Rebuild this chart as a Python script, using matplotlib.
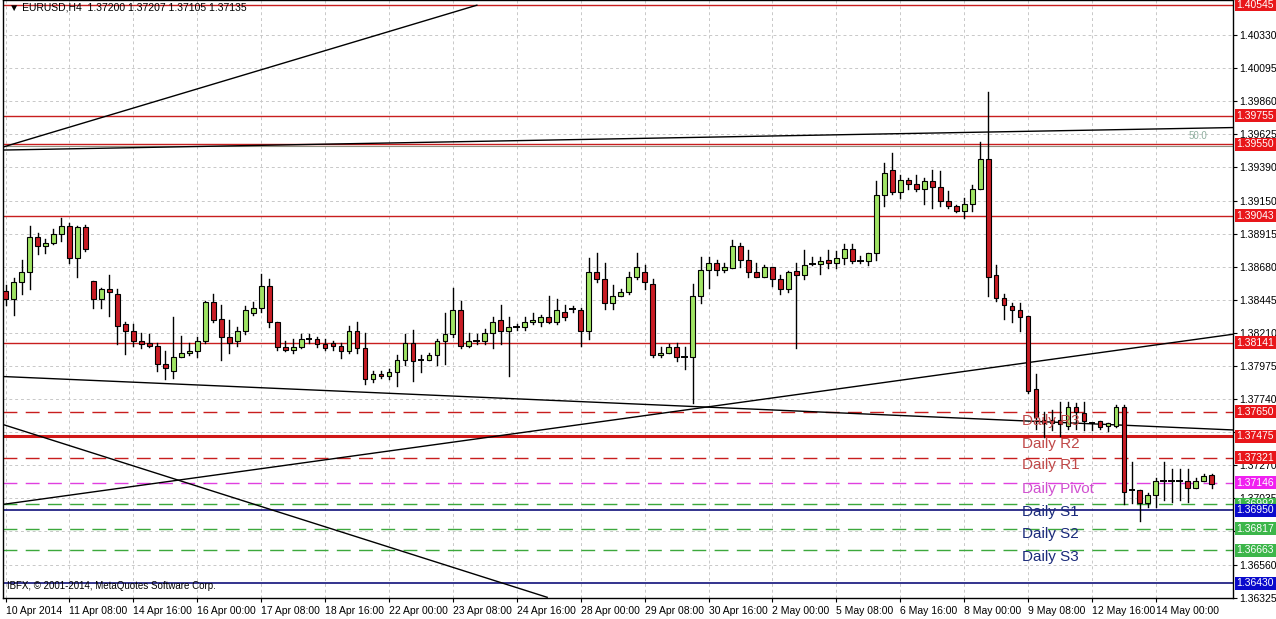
import numpy as np
import matplotlib
matplotlib.use('Agg')
import matplotlib.pyplot as plt
from matplotlib.patches import Rectangle

# EURUSD H4 candles: open, high, low, close
opens = [1.3851,1.3845,1.3857,1.3864,1.3889,1.3883,1.3885,1.3891,1.3897,1.3874,
         1.3896,1.3858,1.3845,1.3852,1.3849,1.3827,1.3822,1.3815,1.3814,1.3812,
         1.3799,1.3794,1.3804,1.3807,1.3808,1.3815,1.3843,1.3831,1.3818,1.3815,
         1.3822,1.3835,1.3839,1.3854,1.3829,1.3811,1.3809,1.3811,1.3817,1.3817,
         1.3813,1.3814,1.3812,1.3808,1.3822,1.3810,1.3788,1.3792,1.3790,1.3793,
         1.3802,1.3814,1.3802,1.3802,1.3805,1.3815,1.3820,1.3837,1.3812,1.3815,
         1.3815,1.3821,1.3830,1.3822,1.3825,1.3825,1.3829,1.3829,1.3832,1.3829,
         1.3836,1.3838,1.3837,1.3822,1.3864,1.3859,1.3842,1.3847,1.3850,1.3861,
         1.3864,1.3856,1.3805,1.3807,1.3811,1.3804,1.3804,1.3847,1.3866,1.3871,
         1.3866,1.3867,1.3883,1.3873,1.3864,1.3861,1.3868,1.3859,1.3852,1.3865,
         1.3862,1.3870,1.3870,1.3873,1.3871,1.3874,1.3881,1.3872,1.3872,1.3878,
         1.3919,1.3937,1.3921,1.3930,1.3927,1.3923,1.3929,1.3925,1.3915,1.3911,
         1.3908,1.3913,1.3923,1.3945,1.3862,1.3846,1.3840,1.3837,1.3833,1.3781,
         1.3759,1.3759,1.3759,1.3755,1.3768,1.3764,1.3757,1.3758,1.3755,1.3755,
         1.3768,1.3709,1.3709,1.3700,1.3706,1.3716,1.3716,1.3716,1.3716,1.3711,
         1.3716,1.37200]
highs = [1.3855,1.3860,1.3873,1.3897,1.3892,1.3888,1.3895,1.3903,1.3899,1.3897,
         1.3898,1.3858,1.3853,1.3862,1.3852,1.3829,1.3827,1.3821,1.3820,1.3814,
         1.3808,1.3832,1.3819,1.3814,1.3818,1.3844,1.3849,1.3841,1.3830,1.3825,
         1.3840,1.3843,1.3863,1.3859,1.3829,1.3815,1.3817,1.3820,1.3820,1.3818,
         1.3817,1.3815,1.3814,1.3826,1.3829,1.3821,1.3794,1.3794,1.3795,1.3805,
         1.3820,1.3823,1.3805,1.3807,1.3817,1.3835,1.3853,1.3844,1.3821,1.3820,
         1.3824,1.3832,1.3841,1.3832,1.3827,1.3832,1.3835,1.3834,1.3847,1.3845,
         1.3841,1.3840,1.3839,1.3874,1.3878,1.3871,1.3855,1.3852,1.3864,1.3878,
         1.3869,1.3859,1.3811,1.3813,1.3814,1.3811,1.3856,1.3875,1.3875,1.3873,
         1.3871,1.3887,1.3885,1.3880,1.3871,1.3869,1.3868,1.3862,1.3865,1.3871,
         1.3880,1.3875,1.3875,1.3880,1.3879,1.3884,1.3884,1.3876,1.3878,1.3929,
         1.3942,1.3949,1.3933,1.3931,1.3933,1.3931,1.3937,1.3936,1.3922,1.3912,
         1.3917,1.3926,1.3957,1.3992,1.3869,1.3849,1.3842,1.3842,1.3833,1.3792,
         1.3765,1.3766,1.3772,1.3772,1.3771,1.3772,1.3757,1.3758,1.3757,1.3770,
         1.3770,1.3729,1.3709,1.3707,1.3718,1.3729,1.3724,1.3724,1.3724,1.3718,
         1.3721,1.37207]
lows = [1.3841,1.3834,1.3849,1.3852,1.3877,1.3878,1.3884,1.3886,1.3871,1.3861,
        1.3879,1.3839,1.3839,1.3833,1.3813,1.3806,1.3812,1.3810,1.3811,1.3794,
        1.3788,1.3789,1.3804,1.3805,1.3804,1.3814,1.3829,1.3802,1.3807,1.3812,
        1.3820,1.3834,1.3836,1.3825,1.3809,1.3808,1.3807,1.3810,1.3814,1.3811,
        1.3809,1.3809,1.3803,1.3807,1.3807,1.3785,1.3786,1.3789,1.3788,1.3783,
        1.3798,1.3787,1.3793,1.3802,1.3798,1.3799,1.3818,1.3810,1.3811,1.3813,
        1.3813,1.3810,1.3813,1.3790,1.3823,1.3823,1.3827,1.3826,1.3828,1.3827,
        1.3830,1.3836,1.3812,1.3817,1.3857,1.3838,1.3838,1.3847,1.3849,1.3859,
        1.3852,1.3804,1.3804,1.3807,1.3801,1.3795,1.3771,1.3842,1.3853,1.3862,
        1.3864,1.3867,1.3868,1.3861,1.3861,1.3861,1.3854,1.3849,1.3850,1.3810,
        1.3859,1.3869,1.3863,1.3867,1.3867,1.3870,1.3871,1.3871,1.3869,1.3873,
        1.3911,1.3920,1.3917,1.3923,1.3922,1.3913,1.3910,1.3911,1.3910,1.3907,
        1.3903,1.3908,1.3923,1.3847,1.3844,1.3831,1.3829,1.3822,1.3778,1.3753,
        1.3747,1.3752,1.3748,1.3753,1.3753,1.3752,1.3752,1.3753,1.3751,1.3754,
        1.3699,1.3700,1.3687,1.3697,1.3697,1.3702,1.3701,1.3702,1.3701,1.3711,
        1.3716,1.37105]
closes = [1.3845,1.3857,1.3864,1.3889,1.3883,1.3885,1.3891,1.3897,1.3874,1.3896,
          1.3881,1.3845,1.3852,1.3850,1.3826,1.3822,1.3815,1.3813,1.3812,1.3799,
          1.3796,1.3804,1.3807,1.3808,1.3815,1.3843,1.3830,1.3818,1.3814,1.3822,
          1.3837,1.3839,1.3854,1.3829,1.3811,1.3809,1.3811,1.3817,1.3817,1.3813,
          1.3810,1.3812,1.3808,1.3822,1.3810,1.3788,1.3792,1.3790,1.3793,1.3802,
          1.3814,1.3801,1.3802,1.3805,1.3815,1.3820,1.3837,1.3812,1.3815,1.3815,
          1.3821,1.3829,1.3822,1.3825,1.3825,1.3829,1.3830,1.3832,1.3829,1.3837,
          1.3832,1.3838,1.3822,1.3864,1.3859,1.3842,1.3847,1.3850,1.3861,1.3868,
          1.3857,1.3805,1.3807,1.3811,1.3804,1.3804,1.3847,1.3866,1.3871,1.3866,
          1.3868,1.3883,1.3873,1.3864,1.3861,1.3868,1.3859,1.3852,1.3864,1.3862,
          1.3869,1.3870,1.3872,1.3871,1.3874,1.3881,1.3872,1.3872,1.3878,1.3919,
          1.3935,1.3921,1.3930,1.3927,1.3923,1.3929,1.3925,1.3915,1.3911,1.3908,
          1.3913,1.3923,1.3945,1.3861,1.3846,1.3841,1.3837,1.3832,1.3780,1.3761,
          1.3757,1.3757,1.3756,1.3768,1.3765,1.3758,1.3757,1.3754,1.3757,1.3768,
          1.3708,1.3709,1.3700,1.3706,1.3716,1.3716,1.3716,1.3716,1.3711,1.3716,
          1.3719,1.37135]

date_labels = ['10 Apr 2014', '11 Apr 08:00', '14 Apr 16:00', '16 Apr 00:00', '17 Apr 08:00',
               '18 Apr 16:00', '22 Apr 00:00', '23 Apr 08:00', '24 Apr 16:00', '28 Apr 00:00',
               '29 Apr 08:00', '30 Apr 16:00', '2 May 00:00', '5 May 08:00', '6 May 16:00',
               '8 May 00:00', '9 May 08:00', '12 May 16:00', '14 May 00:00']
price_ticks = [1.40330, 1.40095, 1.39860, 1.39625, 1.39390, 1.39150, 1.38915, 1.38680,
               1.38445, 1.38210, 1.37975, 1.37740, 1.37505, 1.37270, 1.37035, 1.36800,
               1.36560, 1.36325]
hidden_ticks = [1.37505, 1.36800]  # fully covered by level labels

# horizontal levels: price, colour, style, width, label bg
levels = [(1.40545, '#C81E1E', '-', 1.0, '#E8161A'),
          (1.39755, '#C81E1E', '-', 1.0, '#E8161A'),
          (1.39550, '#C81E1E', '-', 1.0, '#E8161A'),
          (1.39043, '#C81E1E', '-', 1.0, '#E8161A'),
          (1.38141, '#C81E1E', '-', 1.0, '#E8161A'),
          (1.37650, '#C81E1E', (0, (10, 6)), 1.0, '#E8161A'),
          (1.37475, '#D01818', '-', 2.2, '#E8161A'),
          (1.37321, '#C81E1E', (0, (10, 6)), 1.0, '#E8161A'),
          (1.37146, '#E040E0', (0, (10, 6)), 1.0, '#F020F0'),
          (1.36992, '#3CA83C', (0, (10, 6)), 1.0, '#3CB64A'),
          (1.36950, '#10107A', '-', 1.2, '#0A0ACC'),
          (1.36817, '#3CA83C', (0, (10, 6)), 1.0, '#3CB64A'),
          (1.36663, '#3CA83C', (0, (10, 6)), 1.0, '#3CB64A'),
          (1.36430, '#10107A', '-', 1.2, '#0A0ACC')]

# trend lines (bar index, price)
trend_lines = [((-0.4, 1.3953), (59.0, 1.4054)),
               ((-0.4, 1.3951), (153.6, 1.3967)),
               ((-0.4, 1.3790), (153.6, 1.3752)),
               ((-0.4, 1.3699), (153.6, 1.3820)),
               ((-0.4, 1.3756), (67.8, 1.3633))]

pivot_texts = [('Daily R3', 1.3758, '#C04848'), ('Daily R2', 1.3742, '#C04848'),
               ('Daily R1', 1.3727, '#C04848'), ('Daily Pivot', 1.3710, '#D050D0'),
               ('Daily S1', 1.3694, '#1A2A7A'), ('Daily S2', 1.3678, '#1A2A7A'),
               ('Daily S3', 1.3662, '#1A2A7A')]

plt.rcParams['font.family'] = ['Liberation Sans', 'DejaVu Sans']
fig = plt.figure(figsize=(12.76, 6.19), dpi=100)
ax = fig.add_axes([0.002, 21/619, 1230/1276, 598/619])
ymin, ymax = 1.36325, 1.40577
ax.set_xlim(-0.375, 153.6)
ax.set_ylim(ymin, ymax)

# grid
for k in range(len(date_labels)):
    ax.axvline(k * 8, color='#C8C8C8', lw=0.7, ls=(0, (3, 3)), zorder=0)
for p in price_ticks:
    ax.axhline(p, color='#C8C8C8', lw=0.7, ls=(0, (3, 3)), zorder=0)

for p, c, ls, lw, bg in levels:
    ax.axhline(p, color=c, ls=ls, lw=lw, zorder=1)
ax.text(150.5, 1.39575, '50.0', color='#90B0A0', fontsize=7, ha='right', va='bottom')
ax.axhline(1.39540, color='#909080', lw=0.8, zorder=1)

for (x0, y0), (x1, y1) in trend_lines:
    ax.plot([x0, x1], [y0, y1], color='black', lw=1.0, zorder=2)

for i in range(len(closes)):
    o, h, l, c = opens[i], highs[i], lows[i], closes[i]
    ax.plot([i, i], [l, h], color='black', lw=1.0, zorder=3)
    lo, hi = min(o, c), max(o, c)
    col = '#A0E464' if c > o else ('#C81C24' if c < o else 'black')
    if hi - lo < 0.00004:
        ax.plot([i - 0.3, i + 0.3], [o, o], color='black', lw=1.4, zorder=4)
    else:
        ax.add_patch(Rectangle((i - 0.3, lo), 0.6, hi - lo, facecolor=col,
                               edgecolor='black', lw=0.8, zorder=4))

for name, p, c in pivot_texts:
    ax.text(127.3, p, name, color=c, fontsize=11, ha='left', va='center', zorder=5)

ax.text(0.005, 0.995, '\u25bc EURUSD,H4  1.37200 1.37207 1.37105 1.37135', transform=ax.transAxes,
        fontsize=7.5, va='top', ha='left')
ax.text(0.004, 0.012, 'IBFX, \u00a9 2001-2014, MetaQuotes Software Corp.', transform=ax.transAxes,
        fontsize=7, va='bottom', ha='left')

ax.yaxis.tick_right()
ax.set_yticks(price_ticks)
ax.set_yticklabels(['' if p in hidden_ticks else '%.5f' % p for p in price_ticks], fontsize=7.5)
ax.set_xticks([k * 8 for k in range(len(date_labels))])
ax.set_xticklabels(date_labels, fontsize=7.5, ha='left')
ax.tick_params(axis='both', length=3, pad=2, color='black')
ax.tick_params(axis='x', pad=3)
for s in ax.spines.values():
    s.set_color('black')
    s.set_linewidth(1.0)

for p, c, ls, lw, bg in levels:
    ax.text(1.0 + 4/1230, p, '%.5f' % p, transform=ax.get_yaxis_transform(), color='white',
            fontsize=7.5, va='center', ha='left', zorder=10, clip_on=False,
            bbox=dict(boxstyle='square,pad=0.15', fc=bg, ec='none'))

fig.savefig('out.png', dpi=100, facecolor='white')
